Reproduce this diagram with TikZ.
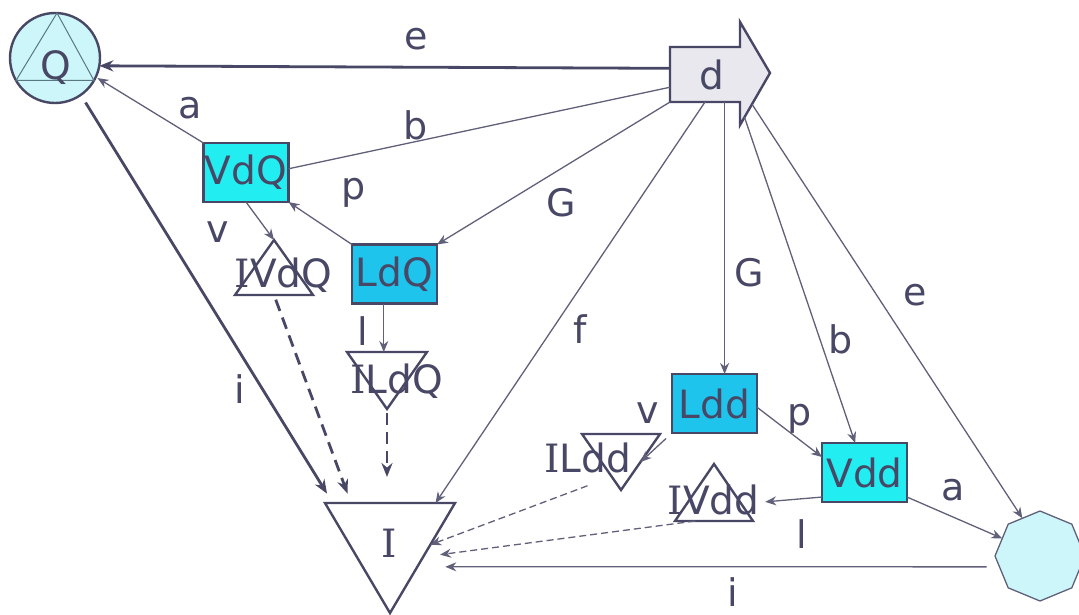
\documentclass[tikz,border=0pt]{standalone}
\usepackage{fontspec}
\setmainfont{DejaVu Sans}
\newfontfamily\slab{DejaVu Serif}
\usetikzlibrary{shapes.geometric,arrows.meta,calc}
\definecolor{ink}{RGB}{72,72,102}
\definecolor{wirec}{RGB}{96,96,122}
\definecolor{paleaqua}{RGB}{204,246,250}
\definecolor{aqua}{RGB}{34,238,242}
\definecolor{sky}{RGB}{30,196,236}
\definecolor{mist}{RGB}{232,232,238}
\definecolor{thinteal}{RGB}{90,120,130}
\begin{document}
\begin{tikzpicture}[x=1pt, y=-1pt,
  every node/.style={text=ink},
  big/.style={font=\fontsize{39}{44}\selectfont},
  lab/.style={font=\fontsize{38}{44}\selectfont, inner sep=0pt, anchor=base},
  word/.style={big, inner sep=0pt, anchor=base},
  box/.style={big, draw=ink, line width=2.4pt, minimum width=85pt, minimum height=59pt, inner sep=0pt, outer sep=0pt},
  vbox/.style={box, fill=aqua},
  lbox/.style={box, fill=sky},
  frame/.style={inner sep=0pt, outer sep=0pt},
  tri/.style={draw=ink, line width=2.4pt},
  wire/.style={draw=wirec, line width=1.3pt, -{Stealth[length=11pt,width=9pt]}},
  heavy/.style={draw=ink, line width=2.8pt, -{Stealth[length=14pt,width=11pt]}},
  heavydash/.style={heavy, dash pattern=on 12pt off 7pt},
  wiredash/.style={wire, dash pattern=on 7pt off 4pt},
]
\clip (0,0) rectangle (1079,615);

% ---- Q: circle with inscribed triangle
\node[circle, draw=ink, line width=2.4pt, fill=paleaqua, minimum size=90pt, inner sep=0pt, outer sep=0pt] (Q) at (55,58) {};
\draw[thinteal, line width=1pt] ([xshift=2pt]Q.north) -- (Q.-30) -- (Q.-150) -- cycle;
\node[word] (Qtxt) at (56,80) {Q};

% ---- d: block arrow
\node[frame, minimum width=70pt, minimum height=55pt] (d) at (705,74.5) {};
\coordinate (dhu) at ([yshift=25pt]d.north east);
\coordinate (dhd) at ([yshift=-23pt]d.south east);
\coordinate (dtip) at ([xshift=30pt,yshift=1.5pt]d.east);
\draw[draw=ink, line width=2.4pt, fill=mist] (d.north west) -- (d.north east) -- (dhu) -- (dtip) -- (dhd) -- (d.south east) -- (d.south west) -- cycle;
\node[word] (dtxt) at (712,90) {d};

% ---- boxes
\node[vbox] (VdQ) at (246,172.5) {VdQ};
\node[lbox] (LdQ) at (394.5,274) {LdQ};
\node[lbox] (Ldd) at (714.5,403.5) {Ldd};
\node[vbox] (Vdd) at (864.5,472.5) {Vdd};

% ---- octagon
\node[regular polygon, regular polygon sides=8, shape border rotate=22.5, minimum size=90pt, inner sep=0pt, outer sep=0pt, draw=wirec, line width=1.3pt, fill=paleaqua] (oct) at (1040,556) {};

% ---- triangles (frames carry the geometry)
\node[frame, minimum width=78pt, minimum height=55pt] (tIVdQ) at (274,267.5) {};
\node[frame, minimum width=80pt, minimum height=57pt] (tILdQ) at (387,380.5) {};
\node[frame, minimum width=78pt, minimum height=56pt] (tILdd) at (621,462) {};
\node[frame, minimum width=78pt, minimum height=57pt] (tIVdd) at (714,492.5) {};
\node[frame, minimum width=130pt, minimum height=110pt] (tI) at (390,558) {};
\draw[tri] (tIVdQ.north) -- (tIVdQ.south east) -- (tIVdQ.south west) -- cycle;
\draw[tri] (tILdQ.north west) -- (tILdQ.north east) -- (tILdQ.south) -- cycle;
\draw[tri] (tILdd.north west) -- (tILdd.north east) -- (tILdd.south) -- cycle;
\draw[tri] (tIVdd.north) -- (tIVdd.south east) -- (tIVdd.south west) -- cycle;
\draw[tri] (tI.north west) -- (tI.north east) -- (tI.south) -- cycle;
\node[word] (IVdQ) at (283.5,287) {{\slab I}VdQ};
\node[word] (ILdQ) at (396.5,393) {{\slab I}LdQ};
\node[word] (ILdd) at (587.5,472) {{\slab I}Ldd};
\node[word] (IVdd) at (713.5,514) {{\slab I}Vdd};
\node[word] (I) at (389,557) {{\slab I}};

% ---- connectors
\draw[heavy] (d.170) -- (Q.-10);
\draw[wire, shorten >=2pt] (VdQ.north west) -- (Q.-25);
\draw[wire, -] (d.200) -- (VdQ.5);
\draw[wire] (d.south west) -- (LdQ.north east);
\draw[wire] (LdQ.north west) -- (VdQ.south east);
\draw[wire] (VdQ.south) -- (tIVdQ.north);
\draw[wire] (LdQ.-110) -- (LdQ.-110 |- tILdQ.north);
\draw[heavydash, shorten <=5pt, shorten >=10pt] (tIVdQ.south) -- ($(tI.north west)!0.2!(tI.north east)$);
\draw[heavydash, shorten <=4pt, shorten >=26pt] (tILdQ.south) -- (tILdQ.south |- tI.north);
\draw[heavy, shorten <=9pt, shorten >=11pt] (Q.-55) -- ($(tI.north west)!0.06!(tI.north east)$);
\draw[wire] (d.south) -- ($(tI.north west)!0.85!(tI.north east)$);
\coordinate (dG) at ($(d.south west)!0.78!(d.south east)$);
\draw[wire] (dG) -- (dG |- Ldd.north);
\draw[wire] ($(dhd)!0.15!(dtip)$) -- ($(Vdd.north west)!0.39!(Vdd.north east)$);
\draw[wire] ($(dhd)!0.4!(dtip)$) -- (oct.115);
\draw[wire] (Ldd.-5) -- (Vdd.160);
\draw[wire, shorten <=8pt] (Ldd.south west) -- ($(tILdd.north east)!0.5!(tILdd.south)$);
\draw[wire, shorten >=24pt] (Vdd.-150) -- ($(tIVdd.south east)!0.3!(tIVdd.north)$);
\draw[wire] (Vdd.-30) -- (oct.155);
\draw[wire, shorten <=13pt, shorten >=28pt] (oct.195) -- ($(tI.north east)!0.58!(tI.south)$);
\draw[wiredash] ([yshift=-13pt]ILdd.south) -- ($(tI.north east)!0.38!(tI.south)$);
\draw[wiredash, shorten >=17pt] ($(tIVdd.south west)!0.26!(tIVdd.south east)$) -- ($(tI.north east)!0.49!(tI.south)$);

% ---- connector labels
\node[lab] (le1) at (416,50) {e};
\node[lab] (la1) at (190,119) {a};
\node[lab] (lb1) at (416,140) {b};
\node[lab] (lp1) at (354,200) {p};
\node[lab] (lv1) at (218,242) {v};
\node[lab] (lG1) at (561,216) {G};
\node[lab] (ll1) at (363,345) {l};
\node[lab] (li1) at (240,403) {i};
\node[lab] (lf) at (580,343) {f};
\node[lab] (lG2) at (749,286) {G};
\node[lab] (lb2) at (841,353) {b};
\node[lab] (le2) at (915,305) {e};
\node[lab] (lv2) at (648,423) {v};
\node[lab] (lp2) at (800,425) {p};
\node[lab] (la2) at (953,500) {a};
\node[lab] (ll2) at (802,548) {l};
\node[lab] (li2) at (733,606) {i};
\end{tikzpicture}
\end{document}
